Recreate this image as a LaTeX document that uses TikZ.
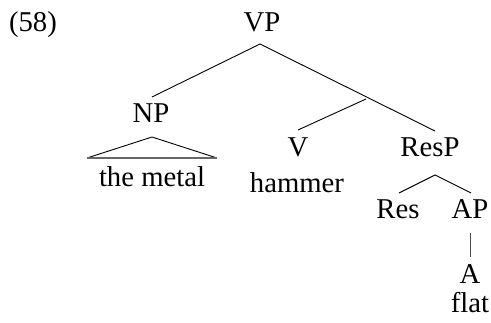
\documentclass[tikz,border=0pt]{standalone}
\usepackage{fontspec}
\setmainfont{Liberation Serif}
\begin{document}
\begin{tikzpicture}[x=1pt,y=-1pt,
  lbl/.style={anchor=base,inner sep=0pt,font=\fontsize{28.7}{34}\selectfont},
  edge/.style={line width=0.9pt,black}]
\useasboundingbox (0,0) rectangle (491,323);
% labels
\node[lbl] (ex) at (33,32) {(58)};
\node[lbl] (vp) at (262,32) {VP};
\node[lbl] (np) at (151,123) {NP};
\node[lbl] (the) at (152,187) {the metal};
\node[lbl] (v) at (298,157) {V};
\node[lbl] (ham) at (297,193) {hammer};
\node[lbl] (resp) at (430,157) {ResP};
\node[lbl] (res) at (398,219) {Res};
\node[lbl] (ap) at (470,219) {AP};
\node[lbl] (a) at (470,284) {A};
\node[lbl] (flat) at (470,313) {flat};
% connector end points
\coordinate (vpb) at (260,44);
\coordinate (npt) at (152,97);
\coordinate (respt) at (435,131);
\coordinate (vbar) at (366,99);
\coordinate (vt) at (298,130);
\coordinate (triapex) at (152,137);
\coordinate (tril) at (87,158);
\coordinate (trir) at (217,158);
\coordinate (respb) at (435,175);
\coordinate (rest) at (399,193);
\coordinate (apt) at (471,193);
\coordinate (apb) at (470,233);
\coordinate (at) at (470,257);
% connectors
\draw[edge] (vpb) -- (npt);
\draw[edge] (vpb) -- (respt);
\draw[edge] (vbar) -- (vt);
\draw[edge] (tril) -- (triapex) -- (trir);
\draw[line width=1.6pt,black!60] (tril) -- (trir);
\draw[edge] (rest) -- (respb) -- (apt);
\draw[edge,black!70] (apb) -- (at);
\end{tikzpicture}
\end{document}
